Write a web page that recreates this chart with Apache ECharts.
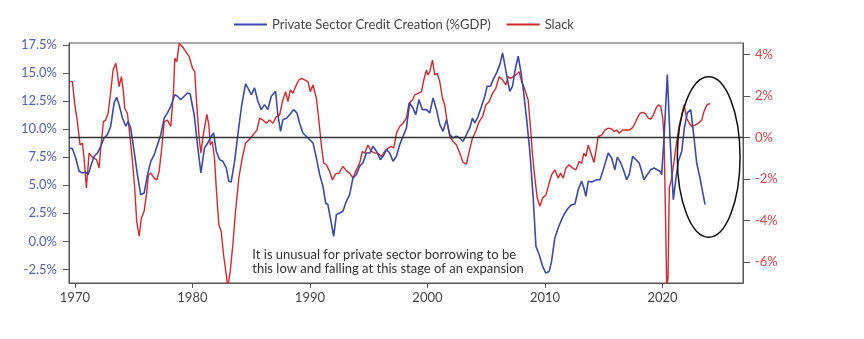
<!DOCTYPE html>
<html><head><meta charset="utf-8">
<script src="https://cdn.jsdelivr.net/npm/echarts@6/dist/echarts.min.js"></script>
<style>html,body{margin:0;padding:0;background:#fff}#c{width:864px;height:339px}</style>
</head><body><div id="c"></div>
<script>
const creditName = 'Private Sector Credit Creation (%GDP)';
const slackName = 'Slack';
const xTicks = [1970,1980,1990,2000,2010,2020];
const leftTicks = [-2.5,0,2.5,5,7.5,10,12.5,15,17.5];
const rightTicks = [-6,-4,-2,0,2,4];
const noteLines = ['It is unusual for private sector borrowing to be','this low and falling at this stage of an expansion'];

const creditYears = [1969.51,1969.79,1970.07,1970.36,1970.64,1970.92,1971.12,1971.35,1971.64,1971.92,
1972.2,1972.49,1972.77,1973.05,1973.34,1973.56,1973.76,1974.05,1974.33,1974.53,
1974.75,1975.04,1975.32,1975.6,1975.89,1976.18,1976.46,1976.75,1977.03,1977.31,
1977.6,1977.88,1978.16,1978.5,1978.73,1979.01,1979.3,1979.58,1979.81,1980.15,
1980.43,1980.72,1981.03,1981.31,1981.6,1981.8,1982.03,1982.31,1982.59,1982.88,
1983.1,1983.3,1983.59,1983.87,1984.16,1984.52,1984.72,1985.01,1985.29,1985.57,
1985.86,1986.14,1986.42,1986.71,1987.08,1987.27,1987.5,1987.7,1988.04,1988.27,
1988.61,1988.89,1989.12,1989.4,1989.83,1990.26,1990.55,1990.83,1991.11,1991.34,
1991.53,1991.74,1992.02,1992.25,1992.53,1992.81,1993.1,1993.38,1993.66,1993.95,
1994.23,1994.51,1994.8,1995.09,1995.37,1995.66,1996.0,1996.22,1996.51,1996.79,
1997.07,1997.36,1997.64,1997.92,1998.21,1998.49,1998.77,1999.0,1999.28,1999.57,
1999.91,2000.2,2000.48,2000.77,2001.05,2001.33,2001.62,2001.9,2002.18,2002.47,
2002.75,2003.03,2003.32,2003.6,2003.83,2004.03,2004.31,2004.6,2004.88,2005.08,
2005.37,2005.59,2005.88,2006.16,2006.39,2006.58,2006.78,2007.01,2007.24,2007.44,
2007.72,2007.92,2008.14,2008.43,2008.71,2009.0,2009.23,2009.51,2009.8,2010.08,
2010.36,2010.56,2010.84,2011.12,2011.41,2011.7,2011.98,2012.27,2012.55,2012.83,
2013.12,2013.31,2013.48,2013.68,2013.97,2014.11,2014.4,2014.68,2014.96,2015.38,
2015.67,2015.95,2016.15,2016.44,2016.72,2016.95,2017.17,2017.46,2017.74,2018.02,
2018.23,2018.42,2018.71,2019.0,2019.28,2019.56,2019.79,2019.93,2020.13,2020.41,
2020.64,2020.92,2021.15,2021.35,2021.64,2021.86,2022.11,2022.4,2022.62,2022.91,
2023.19,2023.62];
const creditValues = [8.33,8.27,7.44,6.25,6.1,6.19,5.95,6.7,7.59,7.88,
8.48,9.22,9.52,10.27,12.35,12.86,12.2,11.0,10.27,10.7,
10.1,8.04,5.95,4.16,4.31,5.95,7.14,7.73,8.63,9.52,
11.0,11.46,12.05,13.09,12.95,12.64,12.95,13.24,13.15,11.3,
8.63,6.1,8.33,8.78,9.37,9.67,8.04,7.29,7.14,6.55,
5.36,5.3,7.14,9.52,11.9,14.05,13.69,13.09,13.69,12.5,
11.75,12.2,11.75,12.95,13.39,11.3,9.82,10.86,11.0,11.3,
11.75,11.46,10.56,9.67,9.22,8.78,7.44,5.95,4.91,3.42,
3.27,2.08,0.45,2.38,2.53,2.68,3.57,4.16,5.65,5.95,
6.7,6.99,7.88,7.88,8.48,8.04,7.29,7.59,8.18,7.88,
7.14,7.59,8.63,9.37,10.12,12.35,11.9,11.3,12.64,11.75,
11.75,11.46,12.8,11.75,10.41,9.82,10.86,9.52,9.22,9.37,
9.22,8.93,9.52,10.12,11.0,10.56,11.16,12.05,12.95,13.84,
13.84,14.43,15.03,15.77,16.81,15.77,14.58,13.39,13.84,15.18,
16.52,15.32,13.69,11.0,8.04,3.87,-0.45,-1.2,-2.23,-2.83,
-2.68,-1.79,0.3,1.19,1.93,2.53,2.97,3.27,3.33,4.61,
5.36,4.76,4.02,5.36,5.3,5.21,5.5,5.5,6.39,7.88,
7.44,6.39,7.5,7.02,6.25,5.5,5.95,7.59,7.29,6.99,
6.25,5.5,5.95,6.39,6.55,6.39,6.25,5.95,9.22,14.88,
9.22,3.72,5.65,7.14,8.04,10.12,11.46,11.75,9.82,6.99,
5.65,3.27];

const slackYears = [1969.51,1969.79,1969.98,1970.21,1970.44,1970.64,1970.78,1970.98,1971.21,1971.41,
1971.64,1971.86,1972.06,1972.2,1972.43,1972.62,1972.83,1973.05,1973.25,1973.48,
1973.62,1973.76,1973.96,1974.13,1974.24,1974.47,1974.7,1974.9,1975.09,1975.26,
1975.47,1975.66,1975.89,1976.09,1976.26,1976.46,1976.75,1976.97,1977.17,1977.39,
1977.6,1977.88,1978.16,1978.39,1978.5,1978.67,1978.88,1979.16,1979.44,1979.73,
1980.01,1980.2,1980.37,1980.58,1980.72,1980.92,1981.23,1981.4,1981.52,1981.69,
1981.88,1982.03,1982.25,1982.45,1982.65,1982.88,1983.02,1983.22,1983.44,1983.67,
1983.95,1984.24,1984.52,1984.8,1985.15,1985.49,1985.72,1986.0,1986.29,1986.57,
1986.85,1987.14,1987.42,1987.7,1987.93,1988.13,1988.33,1988.55,1988.84,1989.06,
1989.27,1989.55,1989.83,1990.03,1990.26,1990.55,1990.77,1990.97,1991.17,1991.4,
1991.68,1991.91,1992.19,1992.47,1992.81,1992.96,1993.15,1993.38,1993.66,1993.95,
1994.23,1994.46,1994.66,1994.94,1995.23,1995.51,1995.79,1996.08,1996.36,1996.64,
1996.93,1997.13,1997.36,1997.64,1997.92,1998.21,1998.43,1998.72,1998.92,1999.2,
1999.49,1999.69,1999.91,2000.05,2000.2,2000.43,2000.62,2000.82,2001.05,2001.28,
2001.47,2001.67,2001.9,2002.18,2002.47,2002.75,2003.03,2003.32,2003.54,2003.83,
2004.11,2004.4,2004.69,2004.97,2005.25,2005.54,2005.82,2006.1,2006.39,2006.67,
2006.87,2007.07,2007.29,2007.58,2007.8,2008.01,2008.2,2008.37,2008.57,2008.77,
2008.94,2009.14,2009.34,2009.57,2009.8,2010.08,2010.36,2010.56,2010.84,2011.12,
2011.33,2011.55,2011.78,2012.06,2012.35,2012.63,2012.91,2013.12,2013.31,2013.48,
2013.68,2013.88,2014.17,2014.38,2014.53,2014.82,2015.1,2015.38,2015.67,2015.87,
2016.1,2016.32,2016.61,2016.89,2017.17,2017.46,2017.66,2017.85,2018.08,2018.37,
2018.6,2018.79,2019.0,2019.22,2019.45,2019.64,2019.85,2020.02,2020.13,2020.24,
2020.36,2020.47,2020.58,2020.78,2020.98,2021.21,2021.43,2021.64,2021.83,2022.06,
2022.28,2022.49,2022.77,2023.05,2023.34,2023.48,2023.77,2024.05];
const slackValues = [2.69,2.69,1.65,0.77,-0.36,-0.27,-0.99,-2.43,-0.75,-0.91,
-0.99,-1.08,-1.47,-0.51,0.77,0.84,1.17,2.21,3.25,3.57,
3.09,2.45,2.93,2.21,1.41,1.17,-0.03,-1.15,-2.43,-4.03,
-4.75,-3.87,-3.55,-2.76,-1.8,-1.71,-1.95,-2.04,-1.63,-0.51,
0.77,0.84,0.53,2.21,3.81,3.65,4.53,4.37,4.13,3.89,
3.33,3.17,1.57,-0.03,-0.75,0.1,1.12,0.6,-0.36,-0.19,
-0.99,-2.43,-4.2,-4.51,-5.64,-6.6,-7.2,-6.43,-5.16,-3.55,
-1.95,-0.99,-0.27,-0.12,0.12,0.36,0.93,0.84,0.69,0.84,
0.69,1.01,1.08,1.81,2.21,1.73,2.29,2.13,2.53,2.77,
2.85,2.77,2.69,2.21,2.53,1.89,0.77,-0.36,-1.23,-1.31,
-1.63,-2.04,-1.75,-1.71,-1.39,-1.31,-1.63,-1.71,-1.95,-1.55,
-1.23,-0.67,-0.75,-0.36,-0.67,-0.75,-0.75,-0.91,-0.67,-0.51,
-0.43,-0.51,0.21,0.53,0.69,0.93,1.65,1.81,2.05,2.13,
2.21,2.77,3.25,3.01,3.17,3.73,3.01,3.09,2.69,1.89,
1.57,0.77,0.05,-0.19,-0.36,-0.75,-1.2,-1.28,-0.7,-0.03,
0.29,0.77,1.01,1.57,1.73,2.13,2.37,2.93,2.77,2.53,
2.93,2.85,2.93,3.04,3.17,2.69,2.45,2.53,1.81,0.45,
-0.84,-1.95,-2.91,-3.31,-2.91,-2.76,-2.19,-1.8,-1.55,-1.95,
-1.71,-1.95,-1.47,-1.31,-1.47,-1.55,-1.15,-1.23,-0.75,-0.91,
-0.36,-0.7,-1.2,-0.51,0.05,0.12,0.36,0.45,0.41,0.29,
0.36,0.21,0.36,0.36,0.36,0.48,0.69,0.93,1.17,1.21,
1.12,0.93,0.89,1.08,1.41,1.57,1.49,0.93,-0.03,-3.23,
-7.2,-6.75,-2.43,-1.95,-1.15,-0.19,0.6,1.08,1.57,0.93,
0.69,0.53,0.6,0.69,0.84,1.17,1.57,1.65];

// annotation anchors in data units
const noteAt = [1985.1, -0.55];           // [year, left-axis %] top-left of note text
const ellipseCenter = [2023.93, -0.94];   // [year, right-axis %]
const ellipseHalf = [2.67, 3.86];         // [years, right-axis %]

const blue = '#3a4aac', red = '#d8262d';
const font = 'Lato, "Noto Sans", sans-serif';
const pairs = (xs, ys) => xs.map((x, i) => [x, ys[i]]);

const chart = echarts.init(document.getElementById('c'));
chart.setOption({
  animation: false,
  backgroundColor: '#fff',
  textStyle: { fontFamily: font },
  legend: {
    top: 13, left: 229, icon: 'rect', itemWidth: 33, itemHeight: 2, itemGap: 16,
    textStyle: { fontSize: 13, color: '#444', fontFamily: font },
    data: [creditName, slackName]
  },
  grid: { left: 69, right: 121, top: 43, bottom: 56, show: true, borderColor: '#555', borderWidth: 1 },
  xAxis: {
    type: 'value', min: 1969.5, max: 2026.85,
    axisLine: { show: true, onZero: false, lineStyle: { color: '#555' } },
    axisTick: { show: true, customValues: xTicks, length: 5, lineStyle: { color: '#555' } },
    axisLabel: { customValues: xTicks, color: '#444', fontSize: 13, margin: 8, formatter: v => String(v) },
    splitLine: { show: false }
  },
  yAxis: [{
    type: 'value', min: -3.72, max: 17.7, position: 'left',
    axisLine: { show: true, onZero: false, lineStyle: { color: '#555' } },
    axisTick: { show: true, customValues: leftTicks, length: 6, lineStyle: { color: '#555' } },
    axisLabel: { customValues: leftTicks, color: '#5262b6', fontSize: 13, margin: 12, formatter: v => v.toFixed(1) + '%' },
    splitLine: { show: false }
  }, {
    type: 'value', min: -7, max: 4.55, position: 'right',
    axisLine: { show: true, onZero: false, lineStyle: { color: '#555' } },
    axisTick: { show: true, customValues: rightTicks, length: 7, lineStyle: { color: '#555' } },
    axisLabel: { customValues: rightTicks, color: '#e0434a', fontSize: 13, margin: 12, formatter: v => v + '%' },
    splitLine: { show: false }
  }],
  series: [{
    name: creditName, type: 'line', yAxisIndex: 0, showSymbol: false, symbol: 'none',
    data: pairs(creditYears, creditValues), lineStyle: { color: blue, width: 1.6 }, itemStyle: { color: blue }, z: 3
  }, {
    name: slackName, type: 'line', yAxisIndex: 1, showSymbol: false, symbol: 'none',
    data: pairs(slackYears, slackValues), lineStyle: { color: red, width: 1.4 }, itemStyle: { color: red }, z: 2,
    markLine: { silent: true, symbol: 'none', label: { show: false },
      lineStyle: { color: '#333', width: 1.4, type: 'solid' }, data: [{ yAxis: 0 }] }
  }]
});

const np = chart.convertToPixel({ xAxisIndex: 0, yAxisIndex: 0 }, noteAt);
const ec = chart.convertToPixel({ xAxisIndex: 0, yAxisIndex: 1 }, ellipseCenter);
const ee = chart.convertToPixel({ xAxisIndex: 0, yAxisIndex: 1 },
  [ellipseCenter[0] + ellipseHalf[0], ellipseCenter[1] + ellipseHalf[1]]);
chart.setOption({
  graphic: [{
    type: 'text', x: np[0], y: np[1], z: 10,
    style: { text: noteLines.join('\n'), fill: '#333', fontSize: 13, fontFamily: font, lineHeight: 14.5, verticalAlign: 'top' }
  }, {
    type: 'ellipse', z: 10,
    shape: { cx: ec[0], cy: ec[1], rx: Math.abs(ee[0] - ec[0]), ry: Math.abs(ec[1] - ee[1]) },
    style: { fill: 'none', stroke: '#111', lineWidth: 1.5 }
  }]
});
</script>
</body></html>
